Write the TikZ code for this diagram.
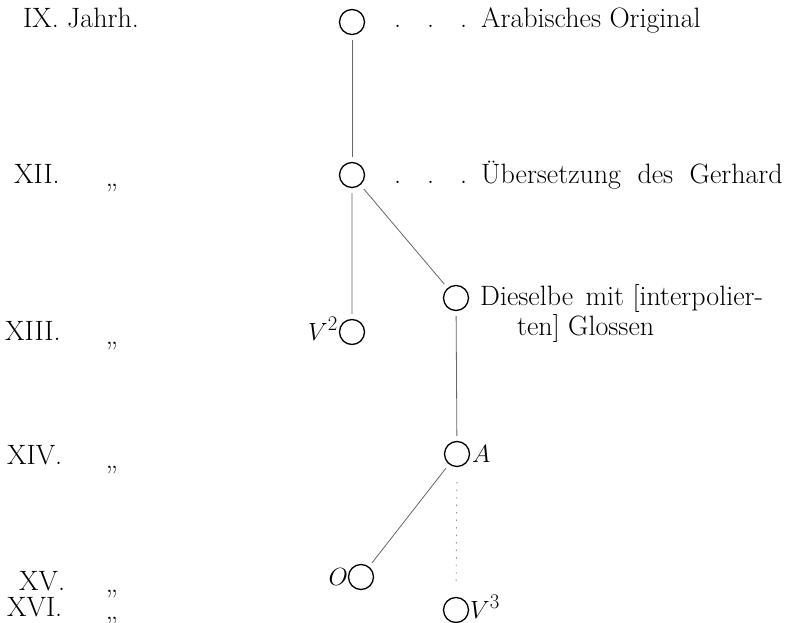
\documentclass[tikz,border=0pt]{standalone}
\begin{document}
\begin{tikzpicture}[x=1pt,y=-1pt,
  every node/.style={font=\fontsize{28}{30}\selectfont, inner sep=0pt},
  knot/.style={circle, draw=black, line width=1.3pt, minimum size=25pt},
  lbl/.style={anchor=base west},
  lble/.style={anchor=base east},
  ditto/.style={anchor=base},
  link/.style={line width=0.8pt, black!60, shorten >=5pt, shorten <=5pt},
  faint/.style={line width=1.2pt, black!22, shorten >=5pt, shorten <=5pt},
  dotlink/.style={line width=0.9pt, black!40, dash pattern=on 1.5pt off 6pt, shorten >=24pt, shorten <=28pt}]
\useasboundingbox (0,0) rectangle (790,623);
% circles
\node[knot] (ix)   at (352,22)  {};
\node[knot] (xii)  at (352,175) {};
\node[knot] (gl)   at (456,298) {};
\node[knot] (v2)   at (352,332) {};
\node[knot] (a)    at (457,454) {};
\node[knot] (o)    at (361,577) {};
\node[knot] (v3)   at (456,610) {};
% connectors
\draw[link] (ix) -- (xii);
\draw[faint] (xii) -- (v2);
\draw[link] (xii) -- (gl);
\draw[link] (gl) -- (a);
\draw[link] (a) -- (o);
\draw[dotlink] (a.center) -- (v3.center);
% texts right
\node[lbl] (t1) at (394,28) {.\hspace{26pt}.\hspace{26pt}.\hspace{14pt}Arabisches Original};
\node[lbl] (t2) at (394,183) {.\hspace{26pt}.\hspace{26pt}.\hspace{14pt}Übersetzung\hspace{8pt} des\hspace{8pt} Gerhard};
\node[lbl] (t3) at (480,305) {Dieselbe\hspace{4pt} mit [interpolier-};
\node[lbl] (t4) at (517,335) {ten] Glossen};
% sigla
\node[lbl] (la) at (472,462) {$A$};
\node[lble] (lo) at (348,585) {$O$};
\node[lble] (lv2) at (338,340) {$V^2$};
\node[lbl] (lv3) at (470,618) {$V^3$};
% centuries
\node[lbl] (c9)  at (23,28)  {IX. Jahrh.};
\node[lbl] (c12) at (14,183) {XII.};
\node[ditto] (d12) at (112,186) {„};
\node[lbl] (c13) at (5,340)  {XIII.};
\node[ditto] (d13) at (112,344) {„};
\node[lbl] (c14) at (7,464)  {XIV.};
\node[ditto] (d14) at (112,468) {„};
\node[lbl] (c15) at (19,590) {XV.};
\node[ditto] (d15) at (112,592) {„};
\node[lbl] (c16) at (7,616)  {XVI.};
\node[ditto] (d16) at (112,619) {„};
\end{tikzpicture}
\end{document}
